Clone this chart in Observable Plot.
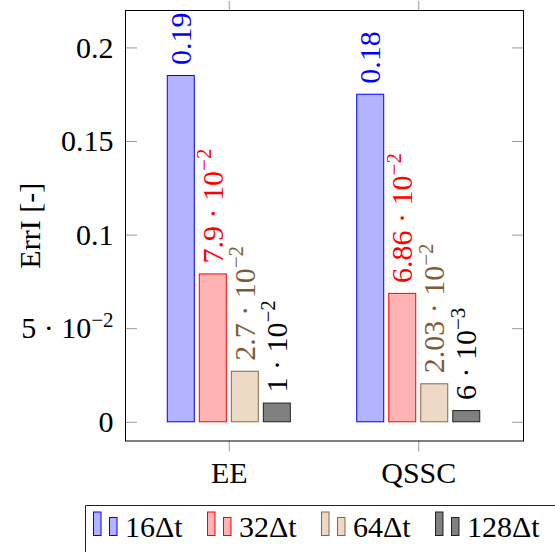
<!DOCTYPE html>
<html><head><meta charset="utf-8">
<script src="https://cdn.jsdelivr.net/npm/d3@7"></script>
<script src="https://cdn.jsdelivr.net/npm/@observablehq/plot@0.6"></script>
<style>
html,body{margin:0;padding:0;background:#fff;overflow:hidden;}
#wrap{position:relative;width:555px;height:552px;overflow:hidden;}
#chart svg{display:block;}
#legend{position:absolute;left:85px;top:505px;}
</style></head><body><div id="wrap"><div id="chart"></div><div id="legend"></div></div>
<script>
// ---- data ----
const groups = ["EE", "QSSC"];
const series = ["16Δt", "32Δt", "64Δt", "128Δt"];
const valuesEE = [0.185, 0.079, 0.027, 0.010];
const valuesQSSC = [0.175, 0.0686, 0.0203, 0.006];
const labelsEE = ["0.19", "7.9 · 10^−2", "2.7 · 10^−2", "1 · 10^−2"];
const labelsQSSC = ["0.18", "6.86 · 10^−2", "2.03 · 10^−2", "6 · 10^−3"];
const yTicks = [0, 0.05, 0.1, 0.15, 0.2];
const yTickLabels = ["0", "5 · 10^−2", "0.1", "0.15", "0.2"];
const yLabel = "ErrI [-]";

// ---- styles ----
const fills = ["#b3b3ff", "#ffb3b3", "#ecdac6", "#808080"];
const strokes = ["#0000ff", "#ff0000", "#8a6641", "#222222"];
const textColors = ["#0000ff", "#ff0000", "#7e5a34", "#000000"];
const barStep = 0.169;   // bar shift between series (x units)
const barWidth = 0.1425; // bar width (x units)
const FONT = "'Liberation Serif', 'Times New Roman', serif";

const valueTable = [valuesEE, valuesQSSC];
const labelTable = [labelsEE, labelsQSSC];
const rows = [];
groups.forEach((g, gi) => series.forEach((s, si) => rows.push({
  group: g, series: s, gi, si, value: valueTable[gi][si], label: labelTable[gi][si]
})));
const center = d => d.gi + (d.si - 1.5) * barStep;

const chart = Plot.plot({
  width: 555, height: 505,
  marginLeft: 125, marginRight: 32, marginTop: 10, marginBottom: 64.5,
  style: {fontFamily: FONT, fontSize: "30px", background: "#fff", color: "#000"},
  x: {domain: [-0.548, 1.553]},
  y: {domain: [-0.01, 0.22]},
  color: {type: "identity"},
  marks: [
    Plot.rect(rows, {
      x1: d => center(d) - barWidth / 2, x2: d => center(d) + barWidth / 2,
      y1: 0, y2: "value",
      fill: d => fills[d.si], stroke: d => strokes[d.si], strokeWidth: 1
    }),
    Plot.text(rows, {
      x: center, y: "value", text: "label", rotate: -90, textAnchor: "start",
      dy: -11, fill: d => textColors[d.si], fontSize: 30
    }),
    Plot.axisY({anchor: "left", ticks: yTicks, tickFormat: d => yTickLabels[yTicks.indexOf(d)],
      tickSize: 0, tickPadding: 12, fill: "#000",
      label: yLabel, labelAnchor: "center", labelOffset: 107, labelArrow: "none"}),
    Plot.axisY({anchor: "left", ticks: yTicks, tickSize: -12, stroke: "#999", fill: "none", label: null}),
    Plot.axisY({anchor: "right", ticks: yTicks, tickSize: -12, stroke: "#999", fill: "none", label: null}),
    Plot.axisX({anchor: "bottom", ticks: [0, 1], tickFormat: d => groups[d], tickSize: 11, tickPadding: 10,
      stroke: "#999", fill: "#000", label: null}),
    Plot.axisX({anchor: "top", ticks: [0, 1], tickSize: 10, stroke: "#999", fill: "none", label: null}),
    Plot.frame({stroke: "#000", strokeWidth: 1})
  ]
});
document.getElementById("chart").appendChild(chart);

// superscripts ("^")
const NS = "http://www.w3.org/2000/svg";
chart.querySelectorAll("text").forEach(t => {
  const s = t.textContent;
  const k = s.indexOf("^");
  if (k < 0) return;
  t.textContent = s.slice(0, k);
  const sp = document.createElementNS(NS, "tspan");
  sp.setAttribute("dy", "-0.55em");
  sp.setAttribute("font-size", "70%");
  sp.textContent = s.slice(k + 1);
  t.appendChild(sp);
});

// ---- legend ----
const lg = d3.select("#legend").append("svg")
  .attr("width", 480).attr("height", 47)
  .style("font-family", FONT).style("font-size", "30px");
lg.append("path").attr("d", "M0.5,47V0.5H480").attr("fill", "none").attr("stroke", "#222");
const item = lg.selectAll("g.item").data(series).join("g")
  .attr("transform", (d, i) => `translate(${8 + i * 114},0)`);
item.append("rect").attr("x", 0.5).attr("y", 7).attr("width", 7.5).attr("height", 23.5)
  .attr("fill", (d, i) => fills[i]).attr("stroke", (d, i) => strokes[i]);
item.append("rect").attr("x", 16.5).attr("y", 12.5).attr("width", 7.5).attr("height", 18)
  .attr("fill", (d, i) => fills[i]).attr("stroke", (d, i) => strokes[i]);
item.append("text").attr("x", 32).attr("y", 31.5).text(d => d);
</script></body></html>
